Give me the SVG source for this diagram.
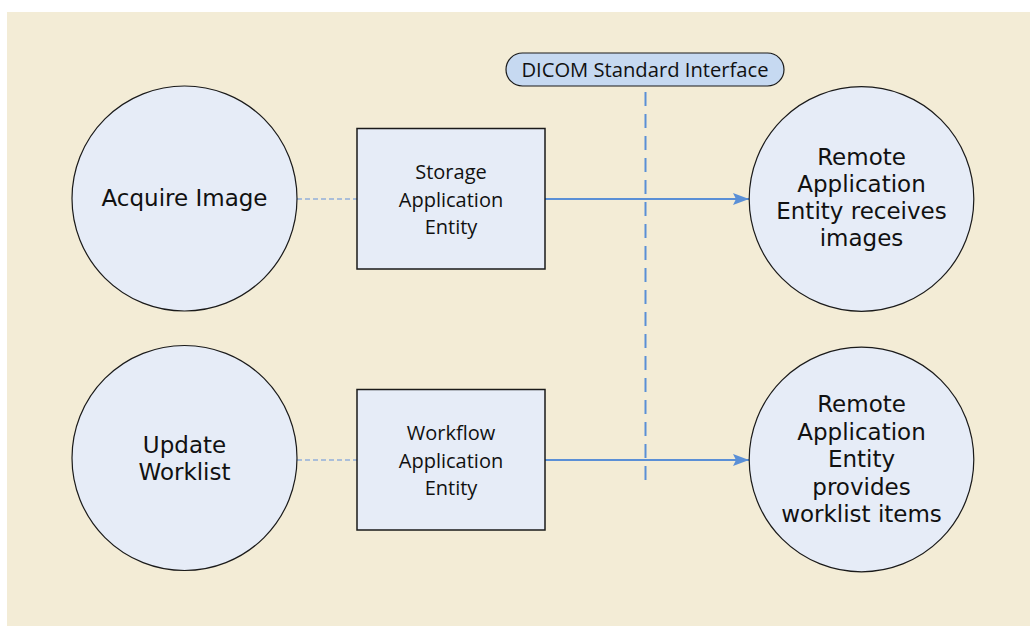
<svg xmlns="http://www.w3.org/2000/svg" width="1030" height="626" viewBox="0 0 1030 626">
<defs>
<style>
.circ{fill:#e6ecf7;stroke:#1a1a1a;stroke-width:1.2}
.box{fill:#e6ecf7;stroke:#1a1a1a;stroke-width:1.5}
.ct{font-family:"DejaVu Sans",Verdana,sans-serif;font-size:23px;fill:#111;text-anchor:middle}
.bt{font-family:"Open Sans","Liberation Sans",sans-serif;font-size:20px;fill:#111;text-anchor:middle}
.pt{font-family:"Open Sans","Liberation Sans",sans-serif;font-size:20.2px;fill:#111;text-anchor:middle}
.dash{stroke:#92afda;stroke-width:1.6;stroke-dasharray:5 3;fill:none}
.arr{stroke:#5a8fd6;stroke-width:1.8;fill:none;marker-end:url(#ah)}
.vdash{stroke:#5a8fd6;stroke-width:2;stroke-dasharray:14 8;fill:none}
</style>
<marker id="ah" viewBox="0 0 16 12" refX="16" refY="6" markerWidth="16" markerHeight="12" markerUnits="userSpaceOnUse" orient="auto">
<path d="M0,0 L16,6 L0,12 L3,6 Z" fill="#5a8fd6"/>
</marker>
</defs>
<rect x="7" y="12" width="1023" height="614" fill="#f3ecd6"/>
<g id="connectors">
<line class="vdash" x1="645.5" y1="92" x2="645.5" y2="488"/>
<line class="dash" x1="297" y1="199" x2="357" y2="199"/>
<line class="dash" x1="297" y1="460" x2="357" y2="460"/>
<line class="arr" x1="545" y1="199" x2="749" y2="199"/>
<line class="arr" x1="545" y1="460" x2="749" y2="460"/>
</g>
<g id="dicom-label">
<rect x="506" y="53" width="278" height="33" rx="16.5" ry="16.5" fill="#c6d9f1" stroke="#1a1a1a" stroke-width="1.2"/>
<text class="pt" x="645" y="77">DICOM Standard Interface</text>
</g>
<g id="acquire-image">
<circle class="circ" cx="184.5" cy="198.5" r="112.5"/>
<text class="ct" x="184.5" y="206">Acquire Image</text>
</g>
<g id="update-worklist">
<circle class="circ" cx="184.5" cy="458" r="112.5"/>
<text class="ct" x="184.5" y="453">Update</text>
<text class="ct" x="184.5" y="480">Worklist</text>
</g>
<g id="storage-ae">
<rect class="box" x="357" y="128.5" width="188" height="140.5"/>
<text class="bt" x="451" y="179">Storage</text>
<text class="bt" x="451" y="207">Application</text>
<text class="bt" x="451" y="234">Entity</text>
</g>
<g id="workflow-ae">
<rect class="box" x="357" y="389.5" width="188" height="140.5"/>
<text class="bt" x="451" y="440">Workflow</text>
<text class="bt" x="451" y="468">Application</text>
<text class="bt" x="451" y="495">Entity</text>
</g>
<g id="remote-receives">
<circle class="circ" cx="861.5" cy="199" r="112.3"/>
<text class="ct" x="861.5" y="165">Remote</text>
<text class="ct" x="861.5" y="192">Application</text>
<text class="ct" x="861.5" y="219">Entity receives</text>
<text class="ct" x="861.5" y="246">images</text>
</g>
<g id="remote-provides">
<circle class="circ" cx="861.5" cy="459.5" r="112.3"/>
<text class="ct" x="861.5" y="412">Remote</text>
<text class="ct" x="861.5" y="439.5">Application</text>
<text class="ct" x="861.5" y="467">Entity</text>
<text class="ct" x="861.5" y="494.5">provides</text>
<text class="ct" x="861.5" y="522">worklist items</text>
</g>
</svg>
